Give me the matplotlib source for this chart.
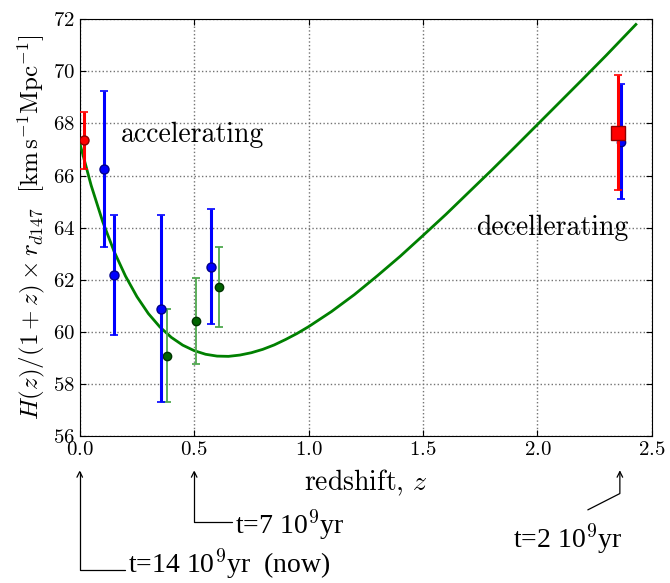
import matplotlib
matplotlib.use("Agg")
import matplotlib.pyplot as plt

plt.rcParams['font.family'] = 'serif'
plt.rcParams['font.serif'] = ['cmr10', 'DejaVu Serif']
plt.rcParams['mathtext.fontset'] = 'cm'
plt.rcParams['axes.formatter.use_mathtext'] = True

# model curve
z_model = [0.0, 0.05, 0.1, 0.15, 0.2, 0.25, 0.3, 0.35, 0.4, 0.45, 0.5, 0.55,
           0.6, 0.65, 0.7, 0.75, 0.8, 0.85, 0.9, 0.95, 1.0, 1.1, 1.2, 1.3,
           1.4, 1.5, 1.6, 1.7, 1.8, 1.9, 2.0, 2.1, 2.2, 2.3, 2.43]
h_model = [67.25, 65.62, 64.24, 63.09, 62.14, 61.35, 60.70, 60.19, 59.79,
           59.49, 59.28, 59.14, 59.07, 59.06, 59.11, 59.20, 59.33, 59.50,
           59.71, 59.94, 60.20, 60.78, 61.43, 62.15, 62.90, 63.70, 64.51,
           65.36, 66.21, 67.08, 67.96, 68.84, 69.72, 70.61, 71.80]

# measurements
z_red = [0.02]
h_red = [67.35]
e_red = [1.1]

z_blue = [0.106, 0.15, 0.354, 0.572]
h_blue = [66.25, 62.19, 60.89, 62.5]
e_blue = [3.0, 2.3, 3.6, 2.2]

z_green = [0.383, 0.51, 0.61]
h_green = [59.09, 60.43, 61.73]
e_green = [1.8, 1.65, 1.53]

z_lya_red = [2.35]
h_lya_red = [67.65]
e_lya_red = [2.2]

z_lya_blue = [2.367]
h_lya_blue = [67.3]
e_lya_blue = [2.2]

# time annotations: (z of arrow, label)
t_marks = [0.0, 0.5, 2.36]
t_labels = [r't=14 10$^9$yr  (now)', r't=7 10$^9$yr', r't=2 10$^9$yr']

fig = plt.figure(figsize=(6.7, 5.83), dpi=100)
ax = fig.add_axes([0.119, 0.252, 0.854, 0.715])

ax.plot(z_model, h_model, color='#008000', lw=2, zorder=3)

ax.errorbar(z_green, h_green, yerr=e_green, fmt='o', color='#4fa84f', mfc='#006400',
            mec='#003300', ms=6, elinewidth=1.3, capsize=3, capthick=1.3, zorder=4)
ax.errorbar(z_blue, h_blue, yerr=e_blue, fmt='o', color='#0000ff', mfc='#0000ff',
            mec='#00008b', ms=6.5, elinewidth=2.2, capsize=3, capthick=1.2, zorder=5)
ax.errorbar(z_red, h_red, yerr=e_red, fmt='o', color='#ff0000', mfc='#ff0000',
            mec='#8b0000', ms=6.5, elinewidth=2.2, capsize=3, capthick=1.2, zorder=5)
ax.errorbar(z_lya_blue, h_lya_blue, yerr=e_lya_blue, fmt='o', color='#0000ff',
            mfc='#0000ff', mec='#00008b', ms=6, elinewidth=2.2, capsize=3,
            capthick=1.2, zorder=5)
ax.errorbar(z_lya_red, h_lya_red, yerr=e_lya_red, fmt='s', color='#ff0000',
            mfc='#ff0000', mec='#8b0000', ms=9.5, elinewidth=2.2, capsize=3,
            capthick=1.2, zorder=6)

ax.text(0.18, 67.55, 'accelerating', fontsize=20, va='center')
ax.text(1.73, 64.0, 'decellerating', fontsize=20, va='center')

ax.set_xlim(0, 2.5)
ax.set_ylim(56, 72)
ax.set_xticks([0.0, 0.5, 1.0, 1.5, 2.0, 2.5])
ax.set_yticks(range(56, 73, 2))
ax.grid(True, color='0.45', linestyle=':', linewidth=1)
ax.tick_params(direction='in', length=4, top=True, right=True, labelsize=15)
ax.set_xlabel(r'redshift, $z$', fontsize=20, labelpad=6)
ax.set_ylabel(r'$H(z)/(1+z)\times r_{d147}\ \ [\mathrm{km\,s^{-1}Mpc^{-1}}]$',
              fontsize=18, labelpad=4)

# arrows below the axis
tip_y = -0.082
arrow_kw = dict(arrowstyle='->', lw=0.9, color='k', shrinkA=0, shrinkB=0)
ax.annotate('', xy=(t_marks[0], tip_y), xycoords=('data', 'axes fraction'),
            xytext=(0.197, -0.322), textcoords=('data', 'axes fraction'),
            arrowprops=dict(connectionstyle='angle,angleA=0,angleB=90,rad=0', **arrow_kw),
            annotation_clip=False)
ax.text(0.21, -0.306, t_labels[0], transform=ax.get_xaxis_transform(),
        family='Liberation Serif', fontsize=20, va='center', ha='left')

ax.annotate('', xy=(t_marks[1], tip_y), xycoords=('data', 'axes fraction'),
            xytext=(0.665, -0.206), textcoords=('data', 'axes fraction'),
            arrowprops=dict(connectionstyle='angle,angleA=0,angleB=90,rad=0', **arrow_kw),
            annotation_clip=False)
ax.text(0.68, -0.212, t_labels[1], transform=ax.get_xaxis_transform(),
        family='Liberation Serif', fontsize=20, va='center', ha='left')

ax.annotate('', xy=(t_marks[2], tip_y), xycoords=('data', 'axes fraction'),
            xytext=(2.22, -0.177), textcoords=('data', 'axes fraction'),
            arrowprops=dict(connectionstyle='angle,angleA=27,angleB=90,rad=0', **arrow_kw),
            annotation_clip=False)
ax.text(1.895, -0.245, t_labels[2], transform=ax.get_xaxis_transform(),
        family='Liberation Serif', fontsize=20, va='center', ha='left')

fig.savefig('out.png', dpi=100)
